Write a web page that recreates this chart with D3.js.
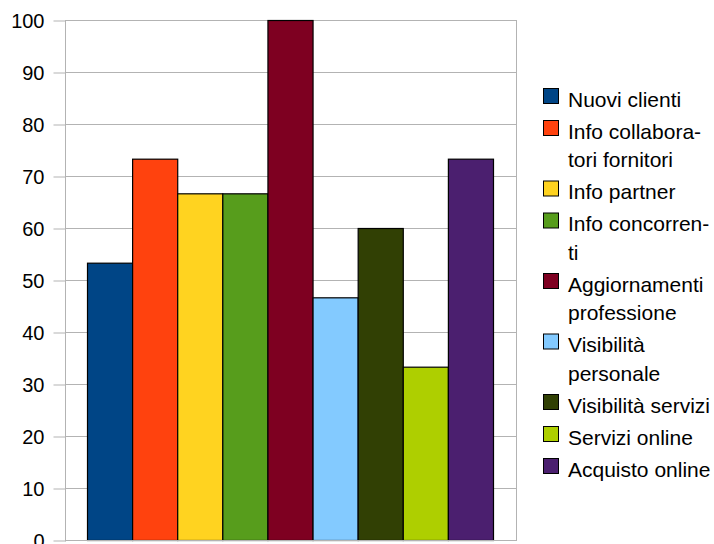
<!DOCTYPE html>
<html>
<head>
<meta charset="utf-8">
<script src="https://cdn.jsdelivr.net/npm/d3@7"></script>
<style>
  html, body { margin: 0; padding: 0; background: #ffffff; }
  svg { display: block; font-family: "Liberation Sans", Arial, sans-serif; }
</style>
</head>
<body>
<svg id="chart" width="714" height="544"></svg>
<script>
// Survey results: share of respondents (%) per interest area
const seriesNames = [
  "Nuovi clienti", "Info collaboratori fornitori", "Info partner", "Info concorrenti",
  "Aggiornamenti professione", "Visibilità personale", "Visibilità servizi",
  "Servizi online", "Acquisto online"
];
// Legend labels as wrapped in the legend box
const legendLines = [
  ["Nuovi clienti"], ["Info collabora-", "tori fornitori"], ["Info partner"],
  ["Info concorren-", "ti"], ["Aggiornamenti", "professione"], ["Visibilità", "personale"],
  ["Visibilità servizi"], ["Servizi online"], ["Acquisto online"]
];
const seriesValues = [53.33, 73.33, 66.67, 66.67, 100, 46.67, 60, 33.33, 73.33];
const seriesColors = ["#004586", "#ff420e", "#ffd320", "#579d1c", "#7e0021",
                      "#83caff", "#314004", "#aecf00", "#4b1f6f"];
const yTicks = [0, 10, 20, 30, 40, 50, 60, 70, 80, 90, 100];

const svg = d3.select("#chart");
const plot = { left: 65, right: 516, top: 20, bottom: 540 };
const gridColor = "#b3b3b3";

const y = d3.scaleLinear().domain([0, 100]).range([plot.bottom, plot.top]);
// one category holding all series side by side
const x = d3.scaleBand().domain(seriesNames).range([87, 493]).padding(0);

// horizontal grid
svg.append("g").selectAll("line").data(yTicks).join("line")
  .attr("x1", plot.left).attr("x2", plot.right)
  .attr("y1", d => y(d) + 0.5).attr("y2", d => y(d) + 0.5)
  .attr("stroke", gridColor).attr("stroke-width", 1);

// right border of plot area
svg.append("line")
  .attr("x1", plot.right + 0.5).attr("x2", plot.right + 0.5)
  .attr("y1", plot.top).attr("y2", plot.bottom + 1)
  .attr("stroke", gridColor);

// y axis
const yAxis = d3.axisLeft(y).tickValues(yTicks).tickSize(12).tickPadding(9)
  .tickFormat(d3.format("d"));
const gy = svg.append("g").attr("transform", `translate(${plot.left + 0.5},0.5)`).call(yAxis);
gy.select(".domain").attr("stroke", gridColor).attr("d", `M0,${plot.top}V${plot.bottom + 1}`);
gy.selectAll(".tick line").attr("stroke", gridColor);
gy.selectAll(".tick text").attr("fill", "#000").style("font-size", "20px")
  .style("font-family", "'Liberation Sans', Arial, sans-serif").attr("dy", "0.35em");

// bars
svg.append("g").selectAll("rect").data(seriesNames).join("rect")
  .attr("x", d => x(d) + 0.5)
  .attr("width", x.bandwidth())
  .attr("y", (d, i) => y(seriesValues[i]) + 0.5)
  .attr("height", (d, i) => y(0) - y(seriesValues[i]))
  .attr("fill", (d, i) => seriesColors[i])
  .attr("stroke", "#000").attr("stroke-width", 1.2);

// x baseline
svg.append("line")
  .attr("x1", plot.left).attr("x2", plot.right + 1)
  .attr("y1", plot.bottom + 0.5).attr("y2", plot.bottom + 0.5)
  .attr("stroke", gridColor);

// legend
const lg = { sx: 543, tx: 568, firstBase: 106.5, lineH: 28.5, gap: 32, box: 16 };
let base = lg.firstBase;
const legend = svg.append("g");
legendLines.forEach((lines, i) => {
  legend.append("rect")
    .attr("x", lg.sx + 0.5).attr("y", base - 18.5 + 0.5)
    .attr("width", lg.box - 1).attr("height", lg.box - 1)
    .attr("fill", seriesColors[i]).attr("stroke", "#000").attr("stroke-width", 1);
  lines.forEach((t, j) => {
    legend.append("text")
      .attr("x", lg.tx).attr("y", base + j * lg.lineH)
      .style("font-size", "21px").attr("fill", "#000")
      .text(t);
  });
  base += lg.gap + (lines.length - 1) * lg.lineH;
});
</script>
</body>
</html>
